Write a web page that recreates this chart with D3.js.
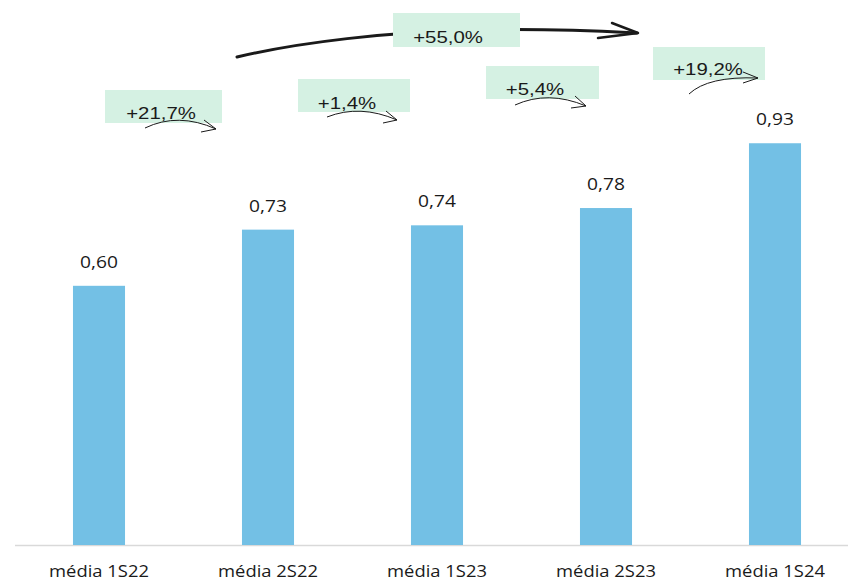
<!DOCTYPE html>
<html><head><meta charset="utf-8">
<script src="https://cdn.jsdelivr.net/npm/d3@7"></script>
<style>body{margin:0;background:#fff}svg{display:block}</style>
</head><body>
<script>
const categories = ["média 1S22","média 2S22","média 1S23","média 2S23","média 1S24"];
const values = [0.60, 0.73, 0.74, 0.78, 0.93];
const stepLabels = ["+21,7%", "+1,4%", "+5,4%", "+19,2%"];
const totalLabel = "+55,0%";

const W = 848, H = 582;
const svg = d3.select("body").append("svg").attr("width", W).attr("height", H);

const x = d3.scaleBand().domain(categories).range([14.5, 859.5]).paddingInner(0.692).paddingOuter(0.346);
const y = d3.scaleLinear().domain([0, 1]).range([545, 113]);
const fmt = v => d3.format(".2f")(v).replace(".", ",");
const SX = 1.2;

// axis line
svg.append("line").attr("x1", 15).attr("x2", 848).attr("y1", y(0) + 0.5).attr("y2", y(0) + 0.5)
  .attr("stroke", "#d9d9d9").attr("stroke-width", 1.5);

// bars
svg.selectAll("rect.bar").data(values).join("rect").attr("class", "bar")
  .attr("x", (d, i) => x(categories[i])).attr("width", x.bandwidth())
  .attr("y", d => y(d)).attr("height", d => y(0) - y(d)).attr("fill", "#73c0e5");

function stretchedText(g, cx, by, txt, font, size, sx) {
  return g.append("text").attr("text-anchor", "middle")
    .attr("transform", `translate(${cx},${by}) scale(${sx || SX},1)`)
    .attr("font-family", font).attr("font-size", size).attr("fill", "#1a1a1a").text(txt);
}

// value labels
values.forEach((v, i) => {
  stretchedText(svg, x(categories[i]) + x.bandwidth() / 2, y(v) - 18, fmt(v), "'Open Sans', sans-serif", 16);
});

// category labels
categories.forEach(c => {
  stretchedText(svg, x(c) + x.bandwidth() / 2, 577, c, "'Open Sans', sans-serif", 16, 1.15);
});

// big arrow (drawn under box)
const big = svg.append("g").attr("fill", "none").attr("stroke", "#1a1a1a").attr("stroke-linecap", "round");
big.append("path").attr("d", "M237,57 C300,42 390,32 470,30 S600,31 637,33").attr("stroke-width", 3);
big.append("path").attr("d", "M612,23 L638,33 L598,38").attr("stroke-width", 2.5).attr("stroke-linejoin", "round");

// annotation layout (pixel positions)
const boxLayout = [
  {x: 105, y: 90, w: 117, h: 33, tx: 161, ty: 119, arc: "M145,128 Q178,112 216,129", head: "M204,120 L216,129 L201,132"},
  {x: 298, y: 79, w: 112, h: 33, tx: 347, ty: 109, arc: "M327,117 Q360,104 397,120", head: "M386,111 L397,120 L383,123"},
  {x: 486, y: 66, w: 113, h: 33, tx: 535, ty: 95, arc: "M515,105 Q548,90 586,106", head: "M575,96 L586,106 L571,108"},
  {x: 653, y: 47, w: 112, h: 33, tx: 708, ty: 75, arc: "M689,94 Q708,76 758,78", head: "M743,72 L758,78 L743,83"}
];
const total = {x: 393, y: 13, w: 127, h: 34, tx: 448, ty: 43};

const ann = svg.append("g");
boxLayout.forEach((b, i) => {
  ann.append("rect").attr("x", b.x).attr("y", b.y).attr("width", b.w).attr("height", b.h).attr("fill", "#d5f1e3");
  stretchedText(ann, b.tx, b.ty, stepLabels[i], "'Liberation Sans', Arial, sans-serif", 17);
  ann.append("path").attr("d", b.arc).attr("fill", "none").attr("stroke", "#1a1a1a").attr("stroke-width", 1);
  ann.append("path").attr("d", b.head).attr("fill", "none").attr("stroke", "#1a1a1a").attr("stroke-width", 1);
});
ann.append("rect").attr("x", total.x).attr("y", total.y).attr("width", total.w).attr("height", total.h).attr("fill", "#d5f1e3");
stretchedText(ann, total.tx, total.ty, totalLabel, "'Liberation Sans', Arial, sans-serif", 17);
</script>
</body></html>
